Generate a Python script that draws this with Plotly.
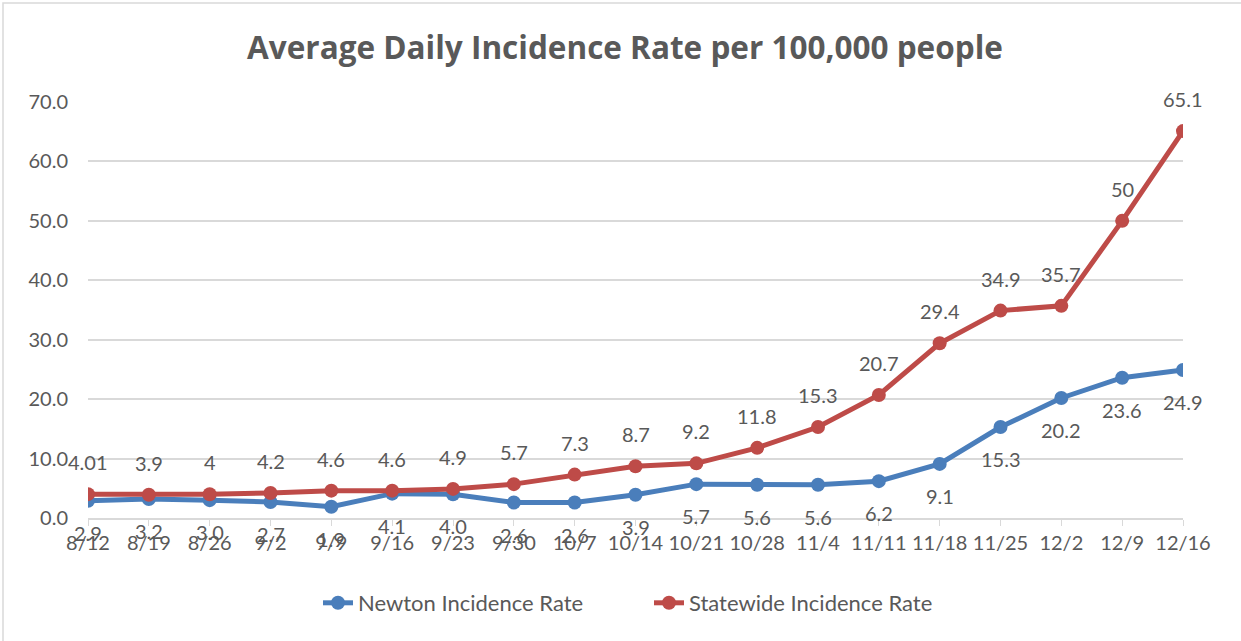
import plotly.graph_objects as go

dates = ["8/12", "8/19", "8/26", "9/2", "9/9", "9/16", "9/23", "9/30", "10/7", "10/14",
         "10/21", "10/28", "11/4", "11/11", "11/18", "11/25", "12/2", "12/9", "12/16"]
newton = [2.9, 3.2, 3.0, 2.7, 1.9, 4.1, 4.0, 2.6, 2.6, 3.9, 5.7, 5.6, 5.6, 6.2, 9.1, 15.3, 20.2, 23.6, 24.9]
newton_labels = ["2.9", "3.2", "3.0", "2.7", "1.9", "4.1", "4.0", "2.6", "2.6", "3.9", "5.7", "5.6",
                 "5.6", "6.2", "9.1", "15.3", "20.2", "23.6", "24.9"]
statewide = [4.01, 3.9, 4, 4.2, 4.6, 4.6, 4.9, 5.7, 7.3, 8.7, 9.2, 11.8, 15.3, 20.7, 29.4, 34.9, 35.7, 50, 65.1]
statewide_labels = ["4.01", "3.9", "4", "4.2", "4.6", "4.6", "4.9", "5.7", "7.3", "8.7", "9.2", "11.8",
                    "15.3", "20.7", "29.4", "34.9", "35.7", "50", "65.1"]
y_ticks = [0, 10, 20, 30, 40, 50, 60, 70]

FONT = "Lato"
GREY = "#595959"
BLUE = "#4A7EBB"
RED = "#BE4B48"

W, H = 1241, 641
L, R, T, B = 88, 58, 102, 123
pw, ph = W - L - R, H - T - B

fig = go.Figure()
fig.add_trace(go.Scatter(x=dates, y=newton, mode="lines+markers", name="Newton Incidence Rate",
                         line=dict(color=BLUE, width=5), marker=dict(size=14, color=BLUE)))
fig.add_trace(go.Scatter(x=dates, y=statewide, mode="lines+markers", name="Statewide Incidence Rate",
                         line=dict(color=RED, width=5), marker=dict(size=14, color=RED)))

annotations = []
for d, v, t in zip(dates, newton, newton_labels):
    annotations.append(dict(x=d, y=v, text=t, showarrow=False, yshift=-32,
                            font=dict(family=FONT, size=20, color=GREY)))
for d, v, t in zip(dates, statewide, statewide_labels):
    annotations.append(dict(x=d, y=v, text=t, showarrow=False, yshift=32,
                            font=dict(family=FONT, size=20, color=GREY)))

def px_x(p):
    return (p - L) / pw

def px_y(p):
    return (H - B - p) / ph

fig.add_shape(type="rect", xref="paper", yref="paper",
              x0=px_x(3), x1=px_x(1250), y0=px_y(650), y1=px_y(3),
              line=dict(color="#D9D9D9", width=1.5), fillcolor="rgba(0,0,0,0)", layer="below")

fig.update_layout(
    width=W, height=H,
    margin=dict(l=L, r=R, t=T, b=B, autoexpand=False),
    paper_bgcolor="white", plot_bgcolor="white",
    title=dict(text="<b>Average Daily Incidence Rate per 100,000 people</b>", x=625 / W,
               xanchor="center", y=1 - 48 / H, yanchor="middle",
               font=dict(family="Open Sans", size=31.5, color=GREY)),
    font=dict(family=FONT, color=GREY),
    showlegend=True,
    legend=dict(orientation="h", x=px_x(318), xanchor="left", y=px_y(603), yanchor="middle",
                font=dict(family=FONT, size=22, color=GREY), entrywidth=286),
    annotations=annotations,
)
fig.update_xaxes(type="category", range=[0, len(dates) - 1], showgrid=False,
                 showline=True, linecolor="#D9D9D9", linewidth=1.5,
                 ticks="outside", ticklen=6, tickcolor="#D9D9D9",
                 tickfont=dict(family=FONT, size=20, color=GREY), tickangle=0)
fig.update_yaxes(range=[0, 70], tickvals=y_ticks, ticktext=[f"{v:.1f}" for v in y_ticks],
                 showgrid=True, gridcolor="#D9D9D9", gridwidth=1.5, zeroline=False,
                 showline=False, tickfont=dict(family=FONT, size=20, color=GREY), ticks="",
                 ticklabelstandoff=19)

fig.write_html("out.html", config={"displayModeBar": False},
               post_script="document.body.style.margin='0';")
